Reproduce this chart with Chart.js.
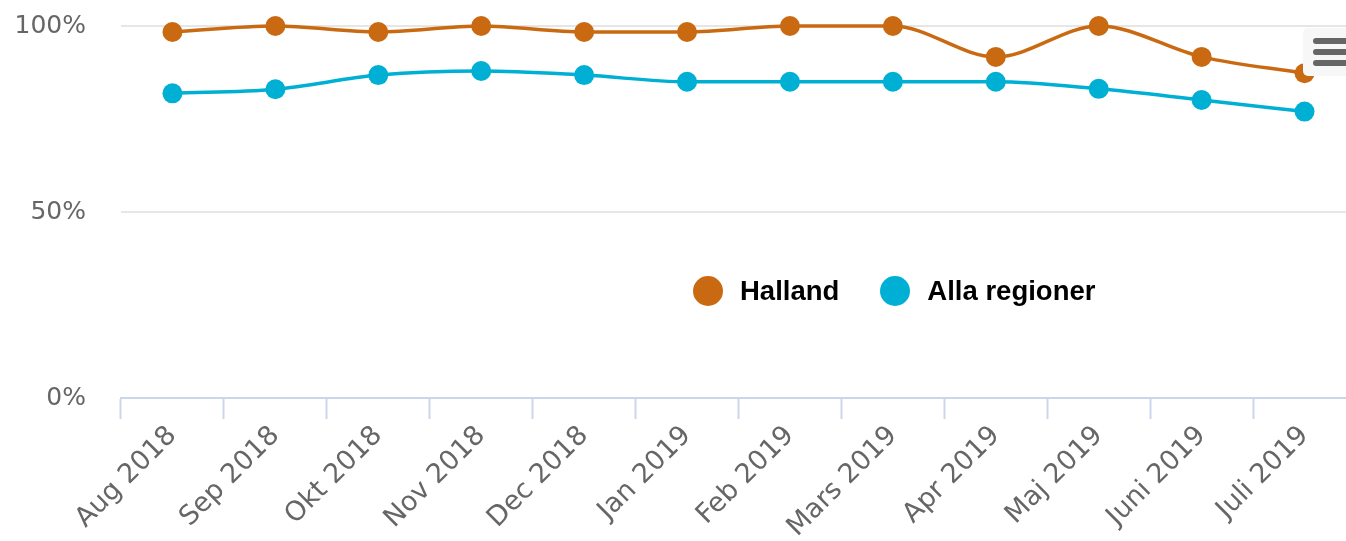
<!DOCTYPE html>
<html>
<head>
<meta charset="utf-8">
<script src="https://cdn.jsdelivr.net/npm/chart.js@4/dist/chart.umd.min.js"></script>
<style>
  body { margin: 0; overflow: hidden; background: #fff; }
  #wrap { position: absolute; left: 0; top: 0; width: 1360px; height: 541px; }
  #myChart { position: absolute; left: 0; top: -24px; }
  #legend { position: absolute; left: 693px; top: 276px; display: flex; align-items: center; height: 30px;
            font-family: "Liberation Sans", Arial, sans-serif; font-weight: bold; font-size: 27.5px; color: #000; }
  #legend .item { display: flex; align-items: center; margin-right: 41px; }
  #legend .dot { width: 30px; height: 30px; border-radius: 50%; margin-right: 17px; }
  #menu { position: absolute; left: 1303px; top: 28px; width: 60px; height: 48px; background: #f7f7f7; border-radius: 5px; }
  #menu span { position: absolute; left: 10px; width: 45px; height: 6px; border-radius: 3px; background: #666; }
</style>
</head>
<body>
<div id="wrap">
  <canvas id="myChart" width="1360" height="565"></canvas>
  <div id="legend"></div>
  <div id="menu"><span style="top:10px"></span><span style="top:21px"></span><span style="top:32px"></span></div>
</div>
<script>
// months shown on the x axis
var months = ["Aug 2018", "Sep 2018", "Okt 2018", "Nov 2018", "Dec 2018", "Jan 2019",
              "Feb 2019", "Mars 2019", "Apr 2019", "Maj 2019", "Juni 2019", "Juli 2019"];
var hallandValues = [98.4, 100, 98.4, 100, 98.4, 98.4, 100, 100, 91.7, 100, 91.7, 87.3];
var allaValues = [81.9, 83, 86.8, 87.9, 86.8, 85, 85, 85, 85, 83.1, 80.1, 77];
var yTicks = [0, 50, 100];

var orange = "#c96a12";
var blue = "#00b0d4";

function makeSet(label, values, color) {
    return {
        label: label,
        data: values,
        borderColor: color,
        backgroundColor: color,
        borderWidth: 3.5,
        pointRadius: 10,
        pointBorderWidth: 0,
        pointBackgroundColor: color,
        cubicInterpolationMode: 'monotone',
        clip: false
    };
}

var ctx = document.getElementById("myChart");
var myChart = new Chart(ctx, {
    type: 'line',
    data: {
        labels: months,
        datasets: [makeSet("Halland", hallandValues, orange), makeSet("Alla regioner", allaValues, blue)]
    },
    options: {
        responsive: false,
        animation: false,
        devicePixelRatio: 1,
        layout: { autoPadding: false, padding: { top: 24, right: 4, left: 0, bottom: 0 } },
        plugins: { legend: { display: false }, tooltip: { enabled: false } },
        scales: {
            x: {
                offset: true,
                grid: { drawOnChartArea: false, drawTicks: true, tickLength: 21, tickWidth: 2, tickColor: '#ccd6eb', offset: true },
                border: { display: true, color: '#ccd6eb', width: 2 },
                ticks: {
                    autoSkip: false, minRotation: 45, maxRotation: 45, padding: 1,
                    color: '#666', font: { family: '"DejaVu Sans"', size: 27 }
                },
                afterFit: function(scale) { scale.height = 143; }
            },
            y: {
                min: 0, max: 100,
                afterBuildTicks: function(scale) {
                    scale.ticks = yTicks.map(function(v) { return { value: v }; });
                },
                grid: {
                    drawTicks: false, lineWidth: 2,
                    color: function(c) { return c.tick && c.tick.value === 0 ? 'rgba(0,0,0,0)' : '#e6e6e6'; }
                },
                border: { display: false },
                ticks: {
                    padding: 35, color: '#666', font: { family: '"DejaVu Sans"', size: 25 },
                    callback: function(v) { return v + '%'; }
                },
                afterFit: function(scale) { scale.width = 121; }
            }
        }
    }
});

// html legend from the datasets
var legendBox = document.getElementById("legend");
myChart.data.datasets.forEach(function(ds) {
    var item = document.createElement("div");
    item.className = "item";
    var dot = document.createElement("div");
    dot.className = "dot";
    dot.style.background = ds.borderColor;
    var txt = document.createElement("span");
    txt.textContent = ds.label;
    item.appendChild(dot);
    item.appendChild(txt);
    legendBox.appendChild(item);
});
</script>
</body>
</html>
